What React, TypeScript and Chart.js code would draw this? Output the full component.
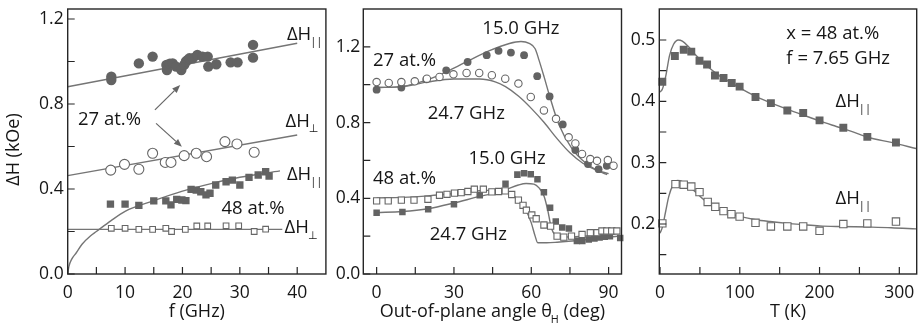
import React, { useEffect, useRef } from "react";
import { Chart, registerables } from "chart.js";

Chart.register(...registerables);

type Pt = [number, number];

// ---------------- Panel 1: linewidth vs frequency ----------------
const F_PAR27: Pt[] = [
  [7.6, 0.928], [7.6, 0.913], [12.4, 0.991], [14.8, 1.023], [17.2, 0.984], [17.3, 0.96],
  [17.8, 0.99], [18.3, 0.991], [18.9, 0.976], [19.8, 0.96], [20.3, 0.984], [20.6, 1.0],
  [20.9, 1.007], [21.2, 1.015], [21.8, 1.015], [22.6, 1.031], [23.5, 1.023], [24.4, 1.023],
  [24.5, 0.976], [25.9, 0.987], [28.4, 0.996], [29.6, 0.996], [32.3, 1.078], [32.3, 1.018],
];
const F_PERP27: Pt[] = [
  [7.5, 0.489], [9.9, 0.516], [12.4, 0.493], [14.8, 0.568], [17.0, 0.525], [18.0, 0.525],
  [20.3, 0.557], [22.4, 0.568], [24.2, 0.552], [27.4, 0.623], [29.5, 0.612], [32.5, 0.573],
];
const F_PAR48: Pt[] = [
  [7.45, 0.329], [10.0, 0.329], [12.4, 0.323], [15.0, 0.344], [17.1, 0.344], [18.0, 0.325],
  [19.0, 0.351], [19.9, 0.348], [20.6, 0.345], [21.5, 0.398], [22.4, 0.395], [23.2, 0.387],
  [24.1, 0.372], [24.8, 0.38], [25.8, 0.419], [27.6, 0.434], [28.7, 0.442], [30.0, 0.419],
  [31.6, 0.455], [33.2, 0.466], [34.5, 0.481], [35.1, 0.461],
];
const F_PERP48: Pt[] = [
  [7.6, 0.215], [10.0, 0.215], [12.4, 0.21], [14.8, 0.21], [17.1, 0.215], [18.1, 0.2],
  [20.5, 0.21], [22.5, 0.226], [24.4, 0.226], [27.6, 0.227], [29.8, 0.227], [32.5, 0.2],
  [34.5, 0.211],
];
const F_FIT_PAR27: Pt[] = [[0, 0.881], [40, 1.086]];
const F_FIT_PERP27: Pt[] = [[0, 0.463], [40, 0.654]];
const F_FIT_PAR48: Pt[] = [
  [0, 0], [0.2, 0.035], [0.7, 0.07], [1.5, 0.1], [2.5, 0.14], [4, 0.18], [5, 0.2],
  [7.5, 0.25], [10, 0.295], [15, 0.345], [20, 0.39], [25, 0.425], [30, 0.455], [37, 0.485],
];
const F_FIT_PERP48: Pt[] = [[0, 0.21], [37.4, 0.21]];
const F_X_TICKS = [0, 5, 10, 15, 20, 25, 30, 35, 40];
const F_X_LABELS = [0, 10, 20, 30, 40];
const F_Y_TICKS = [0, 0.2, 0.4, 0.6, 0.8, 1.0, 1.2];
const F_Y_LABELS = [0, 0.4, 0.8, 1.2];

// ---------------- Panel 2: linewidth vs out-of-plane angle ----------------
const A_FILL27: Pt[] = [
  [0, 0.974], [9.6, 0.985], [19.3, 1.029], [27, 1.076], [35.3, 1.12], [42.7, 1.156],
  [47.3, 1.179], [52.1, 1.17], [57.2, 1.156], [62.3, 1.045], [67.1, 0.938], [72.2, 0.79],
  [77.1, 0.655], [82, 0.581], [86.1, 0.554], [89.3, 0.572],
];
const A_OPEN27: Pt[] = [
  [0, 1.014], [4.7, 1.009], [9.6, 1.014], [14.8, 1.018], [19.5, 1.032], [24.4, 1.041],
  [29.8, 1.055], [34.9, 1.062], [39.8, 1.062], [44.7, 1.05], [49.9, 1.032], [55, 1.006],
  [59.8, 0.935], [64.9, 0.864], [69.6, 0.82], [74.5, 0.722], [77.1, 0.69], [79.7, 0.634],
  [82.9, 0.607], [85.5, 0.598], [89.7, 0.602], [91.9, 0.572],
];
const A_FIT15_27: Pt[] = [
  [0, 0.985], [9.6, 0.99], [19.3, 1.024], [28.3, 1.076], [36.1, 1.13], [43.8, 1.18],
  [51.5, 1.218], [56, 1.228], [59.2, 1.218], [61.5, 1.19], [63, 1.13], [65, 1.04],
  [66.9, 0.95], [70.7, 0.79], [75.9, 0.66], [81, 0.588], [86.2, 0.543], [89.4, 0.525],
];
const A_FIT24_27: Pt[] = [
  [0, 0.985], [10, 0.99], [20, 1.015], [30, 1.03], [40, 1.03], [46, 1.015], [50, 0.99],
  [55, 0.94], [60, 0.875], [65, 0.8], [70, 0.715], [75, 0.64], [80, 0.585], [85, 0.55],
  [90, 0.53],
];
const A_FILL48: Pt[] = [
  [0, 0.324], [10, 0.328], [20, 0.342], [30, 0.368], [40, 0.416], [50, 0.477], [54.6, 0.525],
  [57.2, 0.532], [59.8, 0.527], [62.4, 0.5], [64.9, 0.432], [67.3, 0.35], [69.5, 0.278],
  [72, 0.246], [74.6, 0.241], [77.7, 0.175], [79.8, 0.175], [82.3, 0.182], [84.5, 0.188],
  [86.5, 0.193], [88.5, 0.197], [90.5, 0.2], [94.5, 0.19],
];
const A_OPEN48: Pt[] = [
  [0, 0.386], [4.5, 0.386], [9.6, 0.39], [14.5, 0.39], [19.9, 0.395], [24.4, 0.416],
  [27.3, 0.421], [30.2, 0.427], [32.8, 0.43], [35.4, 0.436], [37.9, 0.448], [41.4, 0.448],
  [44.7, 0.434], [47.3, 0.436], [49.9, 0.439], [52.4, 0.42], [55, 0.39], [56.8, 0.363],
  [58.1, 0.337], [60.2, 0.312], [61.9, 0.292], [64.9, 0.259], [67.5, 0.253], [70, 0.2],
  [72.6, 0.195], [75.6, 0.2], [79.7, 0.209], [82.9, 0.218], [85.5, 0.218], [87.4, 0.227],
  [89.3, 0.227], [91.2, 0.227], [93.2, 0.227],
];
const A_FIT15_48: Pt[] = [
  [0, 0.325], [10, 0.33], [20, 0.345], [30, 0.375], [40, 0.41], [45, 0.425], [50, 0.445],
  [55, 0.47], [58, 0.478], [61, 0.475], [63, 0.455], [65, 0.41], [66.5, 0.33], [67.5, 0.26],
  [68.5, 0.22], [70, 0.205], [75, 0.195], [80, 0.2], [85, 0.205], [90, 0.21], [92, 0.21],
];
const A_FIT24_48: Pt[] = [
  [0, 0.402], [10, 0.405], [20, 0.413], [30, 0.425], [40, 0.44], [47, 0.443], [52, 0.425],
  [55, 0.39], [58, 0.335], [60, 0.27], [61.5, 0.2], [62.5, 0.165], [66, 0.165], [70, 0.168],
  [80, 0.18], [90, 0.195], [94, 0.2],
];
const A_X_TICKS = [0, 15, 30, 45, 60, 75, 90];
const A_X_LABELS = [0, 30, 60, 90];
const A_Y_TICKS = [0, 0.2, 0.4, 0.6, 0.8, 1.0, 1.2];
const A_Y_LABELS = [0, 0.4, 0.8, 1.2];

// ---------------- Panel 3: linewidth vs temperature ----------------
const T_FILL: Pt[] = [
  [2.9, 0.432], [18.6, 0.474], [29.7, 0.484], [39.2, 0.481], [49.5, 0.466], [59, 0.46],
  [68.9, 0.442], [79.6, 0.438], [89.9, 0.43], [99.8, 0.424], [119.7, 0.407], [139, 0.397],
  [159.6, 0.385], [179.5, 0.381], [200, 0.369], [229.8, 0.357], [259.9, 0.342], [295.8, 0.333],
];
const T_OPEN: Pt[] = [
  [2.9, 0.201], [19.4, 0.265], [29.7, 0.264], [39.2, 0.261], [49.5, 0.252], [59.8, 0.236],
  [69.3, 0.228], [79.6, 0.221], [89.5, 0.216], [99.8, 0.212], [119.7, 0.202], [139, 0.196],
  [159.6, 0.196], [179.5, 0.196], [200, 0.189], [229.8, 0.2], [259.9, 0.201], [295.8, 0.204],
];
const T_FIT_FILL: Pt[] = [
  [0, 0.415], [3, 0.42], [7, 0.44], [12, 0.475], [17, 0.493], [23, 0.5], [28, 0.498],
  [35, 0.49], [45, 0.475], [55, 0.462], [65, 0.451], [76, 0.44], [90, 0.43], [101, 0.421],
  [120, 0.408], [138, 0.398], [160, 0.387], [179, 0.378], [200, 0.368], [221, 0.359],
  [240, 0.351], [262, 0.341], [290, 0.333], [321, 0.323],
];
const T_FIT_OPEN: Pt[] = [
  [0, 0.185], [3, 0.195], [7, 0.22], [11, 0.245], [16, 0.263], [22, 0.271], [27, 0.27],
  [35, 0.262], [43, 0.254], [52, 0.243], [60, 0.234], [70, 0.226], [80, 0.22], [101, 0.212],
  [120, 0.207], [138, 0.204], [160, 0.201], [179, 0.199], [200, 0.197], [221, 0.196],
  [262, 0.195], [290, 0.194], [321, 0.192],
];
const T_X_TICKS = [0, 50, 100, 150, 200, 250, 300];
const T_X_LABELS = [0, 100, 200, 300];
const T_Y_TICKS = [0.15, 0.2, 0.25, 0.3, 0.35, 0.4, 0.45, 0.5];
const T_Y_LABELS = [0.2, 0.3, 0.4, 0.5];

// ---------------- styling ----------------
const FONT = '"Open Sans", "DejaVu Sans", sans-serif';
const TEXT = "#161616";
const AXIS = "#262626";
const MARK = "#636363";
const OPEN = "#666666";
const LINE = "#757575";

type Seg = { t: string; sub?: boolean };
type Label = { segs: Seg[]; x: number; y: number };
type Arrow = { from: Pt; to: Pt };
type Deco = { labels: Label[]; arrows: Arrow[]; xTitle: Seg[]; yTitle?: Seg[] };

const txt = (t: string): Seg[] => [{ t }];
const DH_PAR: Seg[] = [{ t: "ΔH" }, { t: "||", sub: true }];
const DH_PERP: Seg[] = [{ t: "ΔH" }, { t: "⊥", sub: true }];

const toXY = (a: Pt[]) => a.map(([x, y]) => ({ x, y }));

function markers(data: Pt[], style: string, filled: boolean, r: number) {
  return {
    data: toXY(data),
    showLine: false,
    pointStyle: style,
    pointRadius: r,
    pointHoverRadius: r,
    pointBackgroundColor: filled ? MARK : "#ffffff",
    pointBorderColor: filled ? MARK : OPEN,
    pointBorderWidth: filled ? 0 : 1.1,
    clip: 8,
  };
}

function curve(data: Pt[]) {
  return {
    data: toXY(data),
    showLine: true,
    pointRadius: 0,
    pointHoverRadius: 0,
    borderColor: LINE,
    borderWidth: 1.4,
    cubicInterpolationMode: "monotone",
    fill: false,
  };
}

function measure(ctx: CanvasRenderingContext2D, segs: Seg[], size: number) {
  let w = 0;
  for (const s of segs) {
    ctx.font = `${s.sub ? size * 0.6 : size}px ${FONT}`;
    w += ctx.measureText(s.t).width - (s.sub ? 1 : 0);
  }
  return w;
}

function drawSegs(ctx: CanvasRenderingContext2D, segs: Seg[], x: number, cy: number, size: number, center: boolean) {
  const base = cy + size * 0.36;
  let cx = center ? x - measure(ctx, segs, size) / 2 : x;
  ctx.textAlign = "left";
  ctx.textBaseline = "alphabetic";
  for (const s of segs) {
    const sz = s.sub ? size * 0.6 : size;
    ctx.font = `${sz}px ${FONT}`;
    ctx.fillText(s.t, cx - (s.sub ? 1 : 0), s.sub ? base + size * 0.3 : base);
    cx += ctx.measureText(s.t).width - (s.sub ? 1 : 0);
  }
}

function decoPlugin(d: Deco) {
  return {
    id: "deco",
    afterDraw(chart: any) {
      const { ctx, chartArea: a, scales } = chart;
      const xs = scales.x;
      const ys = scales.y;
      ctx.save();
      // inward ticks
      ctx.strokeStyle = AXIS;
      ctx.lineWidth = 1.2;
      ctx.beginPath();
      for (const t of xs.ticks) {
        const px = xs.getPixelForValue(t.value);
        ctx.moveTo(px, a.bottom);
        ctx.lineTo(px, a.bottom - 7);
      }
      for (const t of ys.ticks) {
        const py = ys.getPixelForValue(t.value);
        ctx.moveTo(a.left, py);
        ctx.lineTo(a.left + 7, py);
      }
      ctx.stroke();
      // frame
      ctx.lineWidth = 1.4;
      ctx.strokeRect(a.left, a.top, a.right - a.left, a.bottom - a.top);
      // arrows
      ctx.strokeStyle = "#666";
      ctx.fillStyle = "#666";
      ctx.lineWidth = 1.2;
      for (const ar of d.arrows) {
        const x1 = xs.getPixelForValue(ar.from[0]);
        const y1 = ys.getPixelForValue(ar.from[1]);
        const x2 = xs.getPixelForValue(ar.to[0]);
        const y2 = ys.getPixelForValue(ar.to[1]);
        const ang = Math.atan2(y2 - y1, x2 - x1);
        const hl = 8;
        const hw = 3.2;
        const bx = x2 - hl * Math.cos(ang);
        const by = y2 - hl * Math.sin(ang);
        ctx.beginPath();
        ctx.moveTo(x1, y1);
        ctx.lineTo(bx, by);
        ctx.stroke();
        ctx.beginPath();
        ctx.moveTo(x2, y2);
        ctx.lineTo(bx + hw * Math.sin(ang), by - hw * Math.cos(ang));
        ctx.lineTo(bx - hw * Math.sin(ang), by + hw * Math.cos(ang));
        ctx.closePath();
        ctx.fill();
      }
      // labels
      ctx.fillStyle = TEXT;
      for (const l of d.labels) {
        drawSegs(ctx, l.segs, xs.getPixelForValue(l.x), ys.getPixelForValue(l.y), 18.5, false);
      }
      // axis titles
      drawSegs(ctx, d.xTitle, (a.left + a.right) / 2, a.bottom + 37, 18, true);
      if (d.yTitle) {
        ctx.save();
        ctx.translate(a.left - 55, (a.top + a.bottom) / 2 + 8);
        ctx.rotate(-Math.PI / 2);
        drawSegs(ctx, d.yTitle, 0, 0, 18, true);
        ctx.restore();
      }
      ctx.restore();
    },
  };
}

type PanelSpec = {
  left: number;
  width: number;
  yAxisWidth: number;
  padRight: number;
  xMin: number;
  xMax: number;
  yMin: number;
  yMax: number;
  xTicks: number[];
  xLabels: number[];
  yTicks: number[];
  yLabels: number[];
  xDigits: number;
  yDigits: number;
  yPad: number;
  datasets: any[];
  deco: Deco;
};

const has = (arr: number[], v: number) => arr.some((a) => Math.abs(a - v) < 1e-9);

function makeConfig(p: PanelSpec): any {
  const tickFont = { family: FONT, size: 17.5 };
  return {
    type: "scatter",
    data: { datasets: p.datasets },
    options: {
      responsive: false,
      animation: false,
      devicePixelRatio: 1,
      events: [],
      layout: { padding: { left: 0, right: p.padRight, top: 9, bottom: 0 } },
      plugins: { legend: { display: false }, tooltip: { enabled: false } },
      scales: {
        x: {
          type: "linear",
          min: p.xMin,
          max: p.xMax,
          grid: { display: false, drawTicks: false },
          border: { display: false },
          ticks: {
            autoSkip: false,
            maxRotation: 0,
            padding: 9,
            color: TEXT,
            font: tickFont,
            callback: (v: number) => (has(p.xLabels, v) ? v.toFixed(p.xDigits) : ""),
          },
          afterBuildTicks: (s: any) => {
            s.ticks = p.xTicks.map((value) => ({ value }));
          },
          afterFit: (s: any) => {
            s.height = 52;
            s.paddingLeft = 0;
            s.paddingRight = 0;
          },
        },
        y: {
          type: "linear",
          min: p.yMin,
          max: p.yMax,
          grid: { display: false, drawTicks: false },
          border: { display: false },
          ticks: {
            autoSkip: false,
            padding: p.yPad,
            color: TEXT,
            font: tickFont,
            callback: (v: number) => (has(p.yLabels, v) ? v.toFixed(p.yDigits) : ""),
          },
          afterBuildTicks: (s: any) => {
            s.ticks = p.yTicks.map((value) => ({ value }));
          },
          afterFit: (s: any) => {
            s.width = p.yAxisWidth;
            s.paddingTop = 0;
            s.paddingBottom = 0;
          },
        },
      },
    },
    plugins: [decoPlugin(p.deco)],
  };
}

const PANELS: PanelSpec[] = [
  {
    left: 0,
    width: 332,
    yAxisWidth: 67.7,
    padRight: 5,
    xMin: 0,
    xMax: 45,
    yMin: 0,
    yMax: 1.247,
    xTicks: F_X_TICKS,
    xLabels: F_X_LABELS,
    yTicks: F_Y_TICKS,
    yLabels: F_Y_LABELS,
    xDigits: 0,
    yDigits: 1,
    yPad: 4,
    datasets: [
      markers(F_PERP27, "circle", false, 5),
      markers(F_PAR27, "circle", true, 5.2),
      markers(F_PERP48, "rect", false, 4),
      markers(F_PAR48, "rect", true, 5.2),
      curve(F_FIT_PAR27),
      curve(F_FIT_PERP27),
      curve(F_FIT_PAR48),
      curve(F_FIT_PERP48),
    ],
    deco: {
      labels: [
        { segs: DH_PAR, x: 38.2, y: 1.134 },
        { segs: DH_PERP, x: 37.95, y: 0.725 },
        { segs: DH_PAR, x: 38.2, y: 0.474 },
        { segs: DH_PERP, x: 37.8, y: 0.223 },
        { segs: txt("27 at.%"), x: 1.8, y: 0.734 },
        { segs: txt("48 at.%"), x: 26.8, y: 0.315 },
      ],
      arrows: [
        { from: [15.2, 0.772], to: [19.6, 0.889] },
        { from: [15.4, 0.709], to: [19.9, 0.599] },
      ],
      xTitle: txt("f (GHz)"),
      yTitle: txt("ΔH (kOe)"),
    },
  },
  {
    left: 332,
    width: 295,
    yAxisWidth: 31.3,
    padRight: 4,
    xMin: -5.17,
    xMax: 95,
    yMin: 0,
    yMax: 1.4,
    xTicks: A_X_TICKS,
    xLabels: A_X_LABELS,
    yTicks: A_Y_TICKS,
    yLabels: A_Y_LABELS,
    xDigits: 0,
    yDigits: 1,
    yPad: 3,
    datasets: [
      markers(A_OPEN27, "circle", false, 3.7),
      markers(A_FILL27, "circle", true, 3.9),
      markers(A_OPEN48, "rect", false, 4.4),
      markers(A_FILL48, "rect", true, 4.6),
      curve(A_FIT15_27),
      curve(A_FIT24_27),
      curve(A_FIT15_48),
      curve(A_FIT24_48),
    ],
    deco: {
      labels: [
        { segs: txt("15.0 GHz"), x: 41, y: 1.305 },
        { segs: txt("27 at.%"), x: -1.4, y: 1.136 },
        { segs: txt("24.7 GHz"), x: 19.8, y: 0.856 },
        { segs: txt("15.0 GHz"), x: 35.6, y: 0.618 },
        { segs: txt("48 at.%"), x: -1.4, y: 0.512 },
        { segs: txt("24.7 GHz"), x: 20.6, y: 0.217 },
      ],
      arrows: [],
      xTitle: [{ t: "Out-of-plane angle θ" }, { t: "H", sub: true }, { t: " (deg)" }],
    },
  },
  {
    left: 627,
    width: 296,
    yAxisWidth: 32.3,
    padRight: 3,
    xMin: -0.9,
    xMax: 321.8,
    yMin: 0.1185,
    yMax: 0.5505,
    xTicks: T_X_TICKS,
    xLabels: T_X_LABELS,
    yTicks: T_Y_TICKS,
    yLabels: T_Y_LABELS,
    xDigits: 0,
    yDigits: 1,
    yPad: 4,
    datasets: [
      markers(T_FILL, "rect", true, 5.6),
      markers(T_OPEN, "rect", false, 5.2),
      curve(T_FIT_FILL),
      curve(T_FIT_OPEN),
    ],
    deco: {
      labels: [
        { segs: txt("x = 48 at.%"), x: 158.4, y: 0.513 },
        { segs: txt("f = 7.65 GHz"), x: 158.4, y: 0.472 },
        { segs: DH_PAR, x: 220, y: 0.402 },
        { segs: DH_PAR, x: 220, y: 0.244 },
      ],
      arrows: [],
      xTitle: txt("T (K)"),
    },
  },
];

function Panel({ spec }: { spec: PanelSpec }) {
  const ref = useRef<HTMLCanvasElement>(null);
  useEffect(() => {
    const chart = new Chart(ref.current as HTMLCanvasElement, makeConfig(spec));
    return () => chart.destroy();
  }, [spec]);
  return (
    <canvas
      ref={ref}
      width={spec.width}
      height={326}
      style={{ position: "absolute", left: spec.left, top: 0, width: spec.width, height: 326 }}
    />
  );
}

export default function App() {
  return (
    <div style={{ position: "absolute", left: 0, top: 0, width: 923, height: 326, background: "#fff" }}>
      {PANELS.map((p, i) => (
        <Panel key={i} spec={p} />
      ))}
    </div>
  );
}
